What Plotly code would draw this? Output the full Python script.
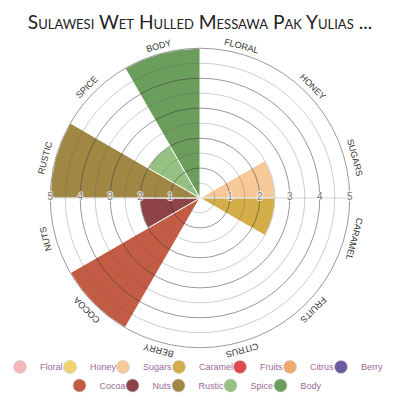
import math
import plotly.graph_objects as go

# ---- data ----
categories = ["Floral", "Honey", "Sugars", "Caramel", "Fruits", "Citrus",
              "Berry", "Cocoa", "Nuts", "Rustic", "Spice", "Body"]
values = [0, 0, 2.5, 2.5, 0, 0, 0, 5, 2, 5, 2, 5]
radial_ticks = [1, 2, 3, 4, 5]
half_ticks = [0.5, 1.5, 2.5, 3.5, 4.5]
title_text = "Sulawesi Wet Hulled Messawa Pak Yulias ..."

# ---- styles ----
colors = ["#f4b8b9", "#f3d36e", "#f7c998", "#d3ad47", "#e04a4b", "#eeaa6b",
          "#6b5a9e", "#c35c44", "#8e4446", "#a08844", "#95c282", "#6b9e5c"]
legend_rows = ["legend"] * 7 + ["legend2"] * 5
legend_w = [5, 8, 11, 16, 5, 6, 24, 8, 1, 7, 5, 23]

W = H = 400
CX, CY, R = 200, 201, 152
dom_x = [(CX - R) / W, (CX + R) / W]
dom_y = [1 - (CY + R) / H, 1 - (CY - R) / H]

fig = go.Figure()

for i, cat in enumerate(categories):
    fig.add_trace(go.Barpolar(
        r=[values[i]], theta=[cat], name=cat, subplot="polar",
        marker=dict(color=colors[i], line=dict(color="white", width=1)),
        showlegend=False, hoverinfo="name+r"))

for i, cat in enumerate(categories):
    fig.add_trace(go.Scatterpolar(
        r=[None], theta=[None], name=cat, subplot="polar", mode="markers",
        marker=dict(color=colors[i], size=13, symbol="circle",
                    line=dict(color="rgba(200,200,200,0.6)", width=1)),
        showlegend=True, legend=legend_rows[i], legendwidth=legend_w[i]))

label_font = dict(family="Liberation Sans, Arial", size=10, color="#777",
                  shadow="1px 0 1px #fff, -1px 0 1px #fff, 0 1px 1px #fff, 0 -1px 1px #fff")

# right-side radial labels
fig.add_trace(go.Scatterpolar(
    r=radial_ticks, theta=[0] * len(radial_ticks), mode="text",
    text=[str(t) for t in radial_ticks], textfont=label_font,
    subplot="polar2", showlegend=False, hoverinfo="skip"))
# left-side radial labels
fig.add_trace(go.Scatterpolar(
    r=radial_ticks, theta=[180] * len(radial_ticks), mode="text",
    text=[str(t) for t in radial_ticks], textfont=label_font,
    subplot="polar3", showlegend=False, hoverinfo="skip"))

hidden_radial = dict(range=[0, 5], showticklabels=False, ticks="", showline=False)

fig.update_layout(
    width=W, height=H,
    margin=dict(l=0, r=0, t=0, b=0),
    paper_bgcolor="white",
    font=dict(family="Liberation Sans, Arial"),
    title=dict(text=title_text, x=0.5, xanchor="center", y=1 - 22 / H, yanchor="middle",
               yref="container",
               font=dict(family="Lato", size=19.2, color="#222", variant="small-caps")),
    polar=dict(
        domain=dict(x=dom_x, y=dom_y), bgcolor="white", bargap=0,
        radialaxis=dict(**hidden_radial, showgrid=False),
        angularaxis=dict(type="category", categoryorder="array", categoryarray=categories,
                         rotation=75, direction="clockwise", showgrid=False,
                         showticklabels=False, ticks="", showline=True,
                         linecolor="#9a9a9a", linewidth=1)),
    polar2=dict(
        domain=dict(x=dom_x, y=dom_y), bgcolor="rgba(0,0,0,0)",
        radialaxis=dict(**hidden_radial, showgrid=True, tickvals=radial_ticks,
                        gridcolor="rgba(50,50,50,0.5)", gridwidth=1),
        angularaxis=dict(rotation=0, direction="counterclockwise", tickvals=[0, 180],
                         showgrid=True, gridcolor="rgba(210,210,210,0.9)",
                         showticklabels=False, ticks="", showline=False)),
    polar3=dict(
        domain=dict(x=dom_x, y=dom_y), bgcolor="rgba(0,0,0,0)",
        radialaxis=dict(**hidden_radial, showgrid=True, tickvals=half_ticks,
                        gridcolor="rgba(90,90,90,0.3)", gridwidth=1),
        angularaxis=dict(rotation=0, direction="counterclockwise", showgrid=False,
                         showticklabels=False, ticks="", showline=False)),
    legend=dict(orientation="h", x=0.485, xanchor="center", y=1 - 372.5 / H, yanchor="middle",
                bgcolor="rgba(0,0,0,0)", itemwidth=30,
                font=dict(family="Liberation Sans, Arial", size=9, color="#a0689a")),
    legend2=dict(orientation="h", x=0.485, xanchor="center", y=1 - 391.5 / H, yanchor="middle",
                 bgcolor="rgba(0,0,0,0)", itemwidth=30,
                 font=dict(family="Liberation Sans, Arial", size=9, color="#a0689a")),
)

# rotated category labels around the circle
n = len(categories)
step = 360 / n
LABEL_R = R + 8
for i, cat in enumerate(categories):
    ang = step * i + step / 2  # clockwise from north
    rad = math.radians(ang)
    fig.add_annotation(
        text=cat, xref="paper", yref="paper",
        x=(CX + LABEL_R * math.sin(rad)) / W,
        y=1 - (CY - LABEL_R * math.cos(rad)) / H,
        xanchor="center", yanchor="middle", showarrow=False, textangle=ang,
        font=dict(family="Liberation Sans, Arial", size=9, color="#333", textcase="upper"))

fig.write_html("out.html")
